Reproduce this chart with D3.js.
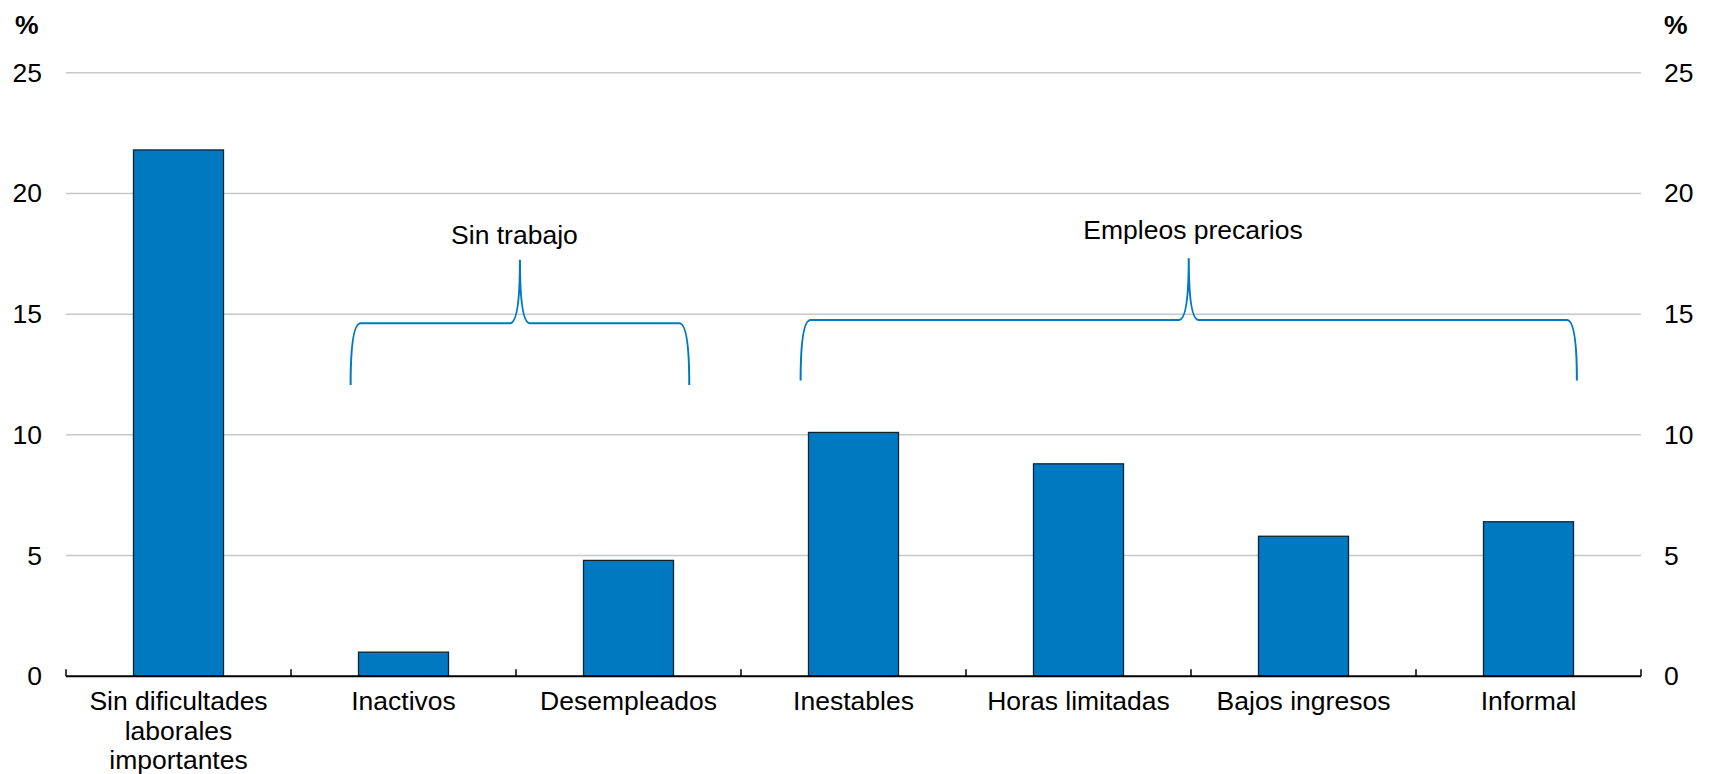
<!DOCTYPE html>
<html>
<head>
<meta charset="utf-8">
<script src="https://cdn.jsdelivr.net/npm/d3@7"></script>
<style>
  body { margin: 0; background: #fff; }
  text { font-family: "Liberation Sans", Arial, sans-serif; fill: #000; }
</style>
</head>
<body>
<svg id="chart" width="1709" height="774"></svg>
<script>
// ---- data ----
const categories = [
  ["Sin dificultades", "laborales", "importantes"],
  ["Inactivos"],
  ["Desempleados"],
  ["Inestables"],
  ["Horas limitadas"],
  ["Bajos ingresos"],
  ["Informal"]
];
const values = [21.8, 1.0, 4.8, 10.1, 8.8, 5.8, 6.4];
const yTicks = [0, 5, 10, 15, 20, 25];
const unitLabel = "%";

// bracket annotations (extent in category-index units, heights in data units)
const groupLabels = ["Sin trabajo", "Empleos precarios"];
const groupFrom = [1.265, 3.265];
const groupTo = [2.77, 6.715];
const groupBottom = [12.07, 12.25];
const groupLevel = [14.62, 14.76];
const groupPeak = [17.25, 17.32];
const groupText = [17.92, 18.1];
const groupTextAt = [1.993, 5.009];

(function () {
// ---- layout ----
const svg = d3.select("#chart");
const mLeft = 66, mRight = 1641, mTop = 72.7, mBottom = 676.3;
const blue = "#0079c1";
const fs = 26.5;

const keys = categories.map((c, i) => i);
const x = d3.scaleBand().domain(keys).range([mLeft, mRight]).padding(0);
const xi = d3.scaleLinear().domain([0, categories.length]).range([mLeft, mRight]);
const y = d3.scaleLinear().domain([0, 25]).range([mBottom, mTop]);
const bw = x.bandwidth();

// grid
svg.append("g").selectAll("line")
  .data(yTicks.filter(d => d > 0))
  .join("line")
  .attr("x1", mLeft).attr("x2", mRight)
  .attr("y1", d => y(d)).attr("y2", d => y(d))
  .attr("stroke", "#c8c8c8").attr("stroke-width", 1.5);

// y tick labels left & right
const yl = d3.axisLeft(y).tickValues(yTicks).tickSize(0).tickPadding(0);
const gl = svg.append("g").attr("transform", `translate(${mLeft - 24},0)`).call(yl);
gl.select(".domain").remove();
gl.selectAll("text").attr("font-size", fs).attr("font-family", "Liberation Sans, Arial, sans-serif").attr("fill", "#000");

const yr = d3.axisRight(y).tickValues(yTicks).tickSize(0).tickPadding(0);
const gr = svg.append("g").attr("transform", `translate(${mRight + 23},0)`).call(yr);
gr.select(".domain").remove();
gr.selectAll("text").attr("font-size", fs).attr("font-family", "Liberation Sans, Arial, sans-serif").attr("fill", "#000");

// unit labels
svg.append("text").attr("x", 15).attr("y", 34).attr("font-size", fs).attr("font-weight", "bold").text(unitLabel);
svg.append("text").attr("x", 1664).attr("y", 34).attr("font-size", fs).attr("font-weight", "bold").text(unitLabel);

// bars
svg.append("g").selectAll("rect")
  .data(values)
  .join("rect")
  .attr("x", (d, i) => x(i) + bw * 0.3)
  .attr("width", bw * 0.4)
  .attr("y", d => y(d))
  .attr("height", d => y(0) - y(d))
  .attr("fill", blue)
  .attr("stroke", "#0d2233")
  .attr("stroke-width", 1.3);

// x axis line + ticks
svg.append("line")
  .attr("x1", mLeft).attr("x2", mRight)
  .attr("y1", y(0)).attr("y2", y(0))
  .attr("stroke", "#000").attr("stroke-width", 2);
const tickPos = d3.range(categories.length + 1);
svg.append("g").selectAll("line")
  .data(tickPos)
  .join("line")
  .attr("x1", d => xi(d)).attr("x2", d => xi(d))
  .attr("y1", y(0)).attr("y2", y(0) - 7)
  .attr("stroke", "#000").attr("stroke-width", 1.5);

// x labels
const xg = svg.append("g");
categories.forEach((lines, i) => {
  const t = xg.append("text")
    .attr("text-anchor", "middle")
    .attr("font-size", fs)
    .attr("x", x(i) + bw / 2)
    .attr("y", 710);
  lines.forEach((ln, j) => {
    t.append("tspan").attr("x", x(i) + bw / 2).attr("dy", j === 0 ? 0 : 29.5).text(ln);
  });
});

// brackets
groupLabels.forEach((lab, i) => {
  const x0 = xi(groupFrom[i]), x1 = xi(groupTo[i]);
  const xm = (x0 + x1) / 2;
  const yb = y(groupBottom[i]), yh = y(groupLevel[i]), yp = y(groupPeak[i]);
  const c = 10, p = 10;
  const path = d3.path();
  path.moveTo(x0, yb);
  path.quadraticCurveTo(x0, yh, x0 + c, yh);
  path.lineTo(xm - p, yh);
  path.quadraticCurveTo(xm, yh, xm, yp);
  path.quadraticCurveTo(xm, yh, xm + p, yh);
  path.lineTo(x1 - c, yh);
  path.quadraticCurveTo(x1, yh, x1, yb);
  svg.append("path")
    .attr("d", path.toString())
    .attr("fill", "none")
    .attr("stroke", blue)
    .attr("stroke-width", 2);
  svg.append("text")
    .attr("text-anchor", "middle")
    .attr("font-size", fs)
    .attr("x", xi(groupTextAt[i]))
    .attr("y", y(groupText[i]))
    .text(lab);
});
})();
</script>
</body>
</html>
